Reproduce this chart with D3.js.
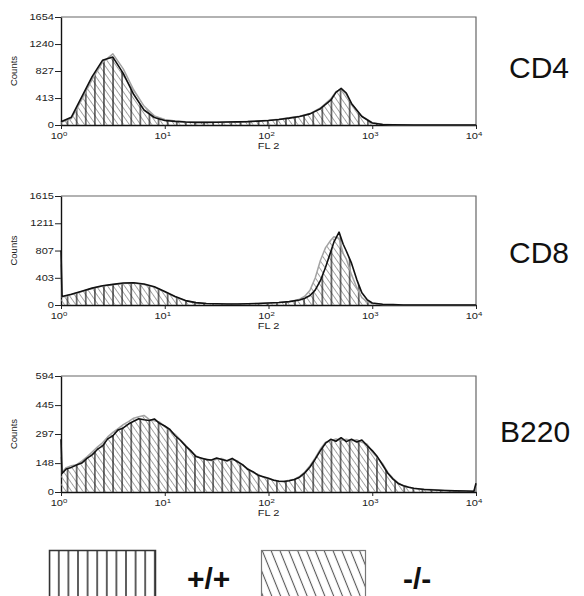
<!DOCTYPE html>
<html><head><meta charset="utf-8">
<script src="https://cdn.jsdelivr.net/npm/d3@7"></script>
<style>body{margin:0;background:#fff}svg{display:block}</style>
</head><body><svg id="c" width="584" height="596"></svg>
<script>
// ---------- DATA (x positions are log10 of FL 2) ----------
const xTickValues = [1, 10, 100, 1000, 10000];
const xTickExps = ["0", "1", "2", "3", "4"];

const CD4_ticks = [0, 413, 827, 1240, 1654];
const CD4_x  = [0,0.1,0.2,0.3,0.4,0.5,0.6,0.7,0.8,0.9,1.0,1.1,1.2,1.3,1.4,1.5,1.6,1.7,1.8,1.9,2.0,2.1,2.2,2.3,2.4,2.5,2.6,2.65,2.7,2.75,2.8,2.9,3.0,3.1,3.2,3.4,4.0];
const CD4_wt = [50,120,430,740,990,1040,790,470,230,115,70,55,45,40,40,42,45,48,52,60,70,85,105,130,170,250,380,500,560,490,330,130,30,8,3,0,0];
const CD4_ko = [40,100,390,700,960,1090,860,540,290,140,85,60,48,42,42,44,47,50,55,62,72,88,110,135,175,260,400,510,550,470,320,135,35,10,3,0,0];

const CD8_ticks = [0, 403, 807, 1211, 1615];
const CD8_x  = [0,0.01,0.1,0.2,0.3,0.4,0.5,0.6,0.7,0.8,0.9,1.0,1.1,1.2,1.3,1.4,1.5,1.6,1.7,1.8,1.9,2.0,2.1,2.2,2.3,2.35,2.4,2.45,2.5,2.55,2.6,2.63,2.68,2.72,2.75,2.8,2.85,2.9,2.95,3.0,3.1,3.2,3.3,4.0];
const CD8_wt = [807,125,160,205,250,285,305,325,330,310,270,200,125,65,35,22,18,15,15,18,22,30,38,50,75,100,140,220,360,560,790,930,1080,900,800,620,380,180,80,30,12,5,0,0];
const CD8_ko = [600,120,155,200,245,280,300,320,325,305,265,195,120,62,33,21,17,15,15,17,21,28,36,50,85,130,220,400,660,850,960,1010,990,760,680,450,260,110,50,20,8,3,0,0];

const B220_ticks = [0, 148, 297, 445, 594];
const B220_x = [0,0.01,0.05,0.1,0.15,0.2,0.25,0.3,0.35,0.4,
  0.45,0.5,0.55,0.6,0.65,0.7,0.75,0.8,0.85,0.9,
  0.95,1.0,1.05,1.1,1.15,1.2,1.25,1.3,1.35,1.4,
  1.45,1.5,1.55,1.6,1.65,1.7,1.75,1.8,1.85,1.9,
  1.95,2.0,2.05,2.1,2.15,2.2,2.25,2.3,2.35,2.4,
  2.45,2.5,2.55,2.6,2.65,2.7,2.75,2.8,2.85,2.9,
  2.95,3.0,3.05,3.1,3.15,3.2,3.25,3.3,3.35,3.4,
  3.5,3.6,3.7,3.8,3.9,3.98,4.0];
const B220_wt = [270,95,118,126,138,148,172,190,218,236,
  272,288,318,328,348,362,375,370,366,374,
  352,338,320,288,265,236,212,182,174,166,
  164,174,166,160,172,155,140,116,104,86,
  78,70,60,55,54,58,64,76,98,128,
  168,212,250,270,260,278,258,270,256,266,
  238,212,180,138,96,66,44,32,24,19,
  13,10,8,6,5,4,45];
const B220_ko = [180,100,125,135,140,158,180,205,230,252,
  282,305,325,345,360,378,385,392,372,365,
  358,335,315,295,268,240,208,186,170,170,
  160,168,172,158,165,160,136,120,100,90,
  75,68,62,56,55,60,66,80,102,135,
  175,220,255,262,272,265,270,262,268,255,
  245,205,175,145,100,70,46,33,26,18,
  14,11,8,6,5,4,35];

const panelNames = ["CD4", "CD8", "B220"];
const legendLabels = ["+/+", "-/-"];
const yLabel = "Counts", xLabel = "FL 2";

// ---------- LAYOUT ----------
const svg = d3.select("#c");
const defs = svg.append("defs");
const L = 61, R = 476;

function pat(id, w, h, stroke, sw, rot, ox) {
  const p = defs.append("pattern").attr("id", id).attr("patternUnits", "userSpaceOnUse")
    .attr("width", w).attr("height", h).attr("x", ox || 0);
  if (rot) p.attr("patternTransform", `rotate(${rot})`);
  p.append("line").attr("x1", w / 2).attr("x2", w / 2).attr("y1", -1).attr("y2", h + 1)
    .attr("stroke", stroke).attr("stroke-width", sw);
}
pat("vert", 9.1, 10, "#1a1a1a", 1.2, 0, 63);
pat("diag", 4.6, 10, "#8c8c8c", 0.8, -35, 0);
pat("lvert", 9.6, 10, "#3a3a3a", 1.6, 0, 54);
pat("ldiag", 8.2, 10, "#555", 1.1, -22, 0);

const panels = [
  {name: panelNames[0], xs: CD4_x, wt: CD4_wt, ko: CD4_ko, ticks: CD4_ticks, top: 17, bottom: 125, ly: 78},
  {name: panelNames[1], xs: CD8_x, wt: CD8_wt, ko: CD8_ko, ticks: CD8_ticks, top: 196, bottom: 305, ly: 263},
  {name: panelNames[2], xs: B220_x, wt: B220_wt, ko: B220_ko, ticks: B220_ticks, top: 376, bottom: 492, ly: 442}
];

const small = "'Liberation Sans', Arial, sans-serif";
const x = d3.scaleLog().domain([1, 10000]).range([L, R]);

panels.forEach(p => {
  const y = d3.scaleLinear().domain([0, p.ticks[p.ticks.length - 1]]).range([p.bottom, p.top]);
  const g = svg.append("g");
  const pts = vals => p.xs.map((e, i) => [x(Math.pow(10, e)), y(vals[i])]);
  const area = d3.area().x(d => d[0]).y0(p.bottom).y1(d => d[1]);
  const line = d3.line();

  // frame top and right
  g.append("path").attr("d", `M${L},${p.top}H${R}V${p.bottom}`).attr("fill", "none")
    .attr("stroke", "#666").attr("stroke-width", 1.2);

  // axes
  const ya = g.append("g").attr("transform", `translate(${L},0)`)
    .call(d3.axisLeft(y).tickValues(p.ticks).tickSize(6).tickSizeOuter(0).tickFormat(""));
  const xa = g.append("g").attr("transform", `translate(0,${p.bottom})`)
    .call(d3.axisBottom(x).tickValues(xTickValues).tickSize(4).tickSizeOuter(0).tickFormat(""));
  [ya, xa].forEach(a => {
    a.select(".domain").attr("stroke", "#111").attr("stroke-width", 1.4);
    a.selectAll(".tick line").attr("stroke", "#222").attr("stroke-width", 1);
  });

  g.append("path").attr("d", area(pts(p.ko))).attr("fill", "url(#diag)");
  g.append("path").attr("d", area(pts(p.wt))).attr("fill", "url(#vert)");
  g.append("path").attr("d", line(pts(p.ko))).attr("fill", "none")
    .attr("stroke", "#a3a3a3").attr("stroke-width", 1.5).attr("stroke-linejoin", "round");
  g.append("path").attr("d", line(pts(p.wt))).attr("fill", "none")
    .attr("stroke", "#111").attr("stroke-width", 1.6).attr("stroke-linejoin", "round");

  // y tick labels (horizontally stretched small font)
  p.ticks.forEach(t => {
    g.append("text").attr("transform", `translate(54,${y(t) + 3}) scale(1.3,1)`)
      .attr("text-anchor", "end").attr("font-family", small).attr("font-size", 8.5)
      .attr("fill", "#222").text(t);
  });
  // x tick labels
  xTickValues.forEach((v, i) => {
    const t = g.append("text").attr("transform", `translate(${x(v) - 2},${p.bottom + 14}) scale(1.3,1)`)
      .attr("text-anchor", "middle").attr("font-family", small).attr("font-size", 8.5).attr("fill", "#222");
    t.append("tspan").text("10");
    t.append("tspan").attr("dy", -3.5).attr("font-size", 6).text(xTickExps[i]);
  });
  g.append("text").attr("transform", `translate(${x(100)},${p.bottom + 24}) scale(1.3,1)`)
    .attr("text-anchor", "middle").attr("font-family", small).attr("font-size", 8.5)
    .attr("fill", "#222").text(xLabel);
  g.append("text").attr("transform", `translate(17,${(p.top + p.bottom) / 2}) rotate(-90)`)
    .attr("text-anchor", "middle").attr("font-family", small).attr("font-size", 9.5)
    .attr("fill", "#222").text(yLabel);

  // panel name
  svg.append("text").attr("x", p.name === "B220" ? 500 : 509).attr("y", p.ly)
    .attr("font-family", "'Liberation Sans', Arial, sans-serif").attr("font-size", 30)
    .attr("fill", "#111").text(p.name);
});

// ---------- LEGEND ----------
svg.append("rect").attr("x", 49.5).attr("y", 550.5).attr("width", 106).attr("height", 60)
  .attr("fill", "url(#lvert)").attr("stroke", "#333").attr("stroke-width", 1.5);
svg.append("rect").attr("x", 261.5).attr("y", 550.5).attr("width", 104).attr("height", 60)
  .attr("fill", "url(#ldiag)").attr("stroke", "#777").attr("stroke-width", 1.2);
svg.append("text").attr("x", 187).attr("y", 589).attr("font-family", "'Liberation Sans', Arial, sans-serif")
  .attr("font-weight", "bold").attr("font-size", 30).attr("fill", "#111").text(legendLabels[0]);
svg.append("text").attr("x", 403).attr("y", 589).attr("font-family", "'Liberation Sans', Arial, sans-serif")
  .attr("font-weight", "bold").attr("font-size", 30).attr("fill", "#111").text(legendLabels[1]);
</script>
</body></html>
